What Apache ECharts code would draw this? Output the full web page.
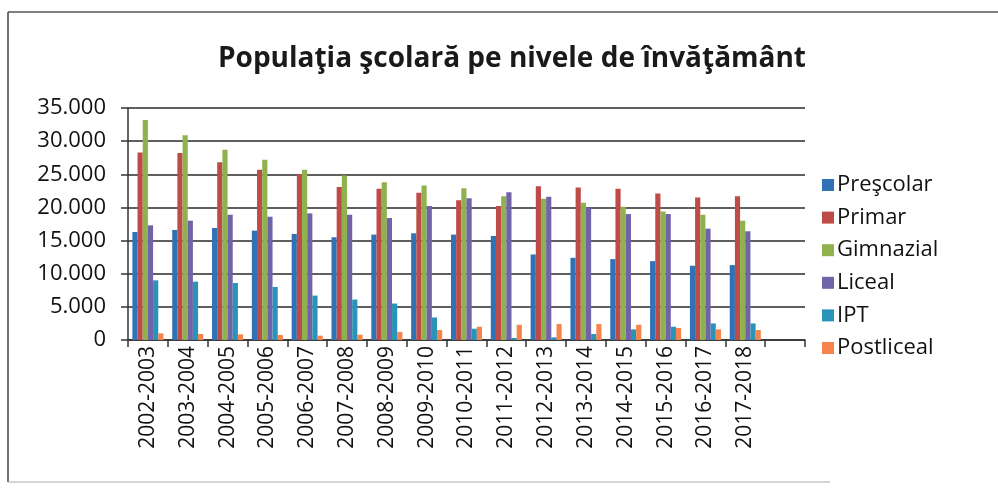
<!DOCTYPE html>
<html>
<head>
<meta charset="utf-8">
<script src="https://cdn.jsdelivr.net/npm/echarts@6/dist/echarts.min.js"></script>
<style>
  html, body { margin: 0; padding: 0; background: #fff; }
  #chart { width: 998px; height: 495px; }
</style>
</head>
<body>
<div id="chart"></div>
<script>
// ani scolari (the last slot is empty in the original)
const categories = ['2002-2003', '2003-2004', '2004-2005', '2005-2006', '2006-2007', '2007-2008',
  '2008-2009', '2009-2010', '2010-2011', '2011-2012', '2012-2013', '2013-2014',
  '2014-2015', '2015-2016', '2016-2017', '2017-2018', '']

const prescolar = [16300, 16600, 16900, 16500, 16000, 15500, 15900, 16100, 15900, 15700, 12900, 12400, 12200, 11900, 11200, 11300]
const primar = [28300, 28200, 26800, 25700, 25000, 23100, 22800, 22200, 21100, 20200, 23200, 23000, 22800, 22100, 21500, 21700]
const gimnazial = [33200, 30900, 28700, 27200, 25700, 24800, 23800, 23300, 22900, 21700, 21300, 20700, 20100, 19400, 18900, 18000]
const liceal = [17300, 18000, 18900, 18600, 19100, 18900, 18400, 20200, 21400, 22300, 21600, 20000, 19000, 19000, 16800, 16400]
const ipt = [9000, 8800, 8600, 8000, 6700, 6100, 5500, 3400, 1700, 300, 400, 900, 1600, 2000, 2500, 2500]
const postliceal = [1000, 900, 850, 750, 650, 800, 1200, 1500, 2000, 2300, 2400, 2400, 2300, 1800, 1600, 1500]

const yTicks = { min: 0, max: 35000, interval: 5000 }

const names = ['Preşcolar', 'Primar', 'Gimnazial', 'Liceal', 'IPT', 'Postliceal']
const colors = ['#2f72b5', '#be4b48', '#8fb24f', '#7163a8', '#2a93b8', '#f5834a']
const values = [prescolar, primar, gimnazial, liceal, ipt, postliceal]

const chart = echarts.init(document.getElementById('chart'))

chart.setOption({
  animation: false,
  textStyle: { fontFamily: '"Open Sans", sans-serif' },
  title: {
    text: 'Populaţia şcolară pe nivele de învăţământ',
    left: 507,
    textAlign: 'center',
    top: 40,
    textStyle: { fontSize: 28, fontWeight: 'bold', color: '#1a1a1a' }
  },
  legend: {
    orient: 'vertical',
    left: 817,
    top: 168,
    itemWidth: 12,
    itemHeight: 12,
    itemGap: 8.6,
    icon: 'rect',
    textStyle: { fontSize: 22, lineHeight: 24, color: '#111', padding: [0, 0, 0, -2] },
    data: names
  },
  grid: {
    left: 128,
    right: 193,
    top: 108,
    bottom: 155
  },
  xAxis: {
    type: 'category',
    data: categories,
    axisLine: { lineStyle: { color: '#333', width: 1.5 } },
    axisTick: { show: true, length: 7, lineStyle: { color: '#333', width: 1.5 } },
    axisLabel: { rotate: 90, fontSize: 21, color: '#111', margin: 6, interval: 0 }
  },
  yAxis: {
    type: 'value',
    min: yTicks.min,
    max: yTicks.max,
    interval: yTicks.interval,
    axisLine: { show: true, lineStyle: { color: '#333', width: 1.5 } },
    axisTick: { show: true, length: 7, lineStyle: { color: '#333', width: 1.5 } },
    splitLine: { lineStyle: { color: '#2a2a2a', width: 1.5 } },
    axisLabel: {
      fontSize: 22,
      color: '#111',
      margin: 22,
      formatter: v => v === 0 ? '0' : v.toLocaleString('de-DE')
    }
  },
  series: names.map((n, i) => ({
    name: n,
    type: 'bar',
    data: values[i],
    barGap: '0%',
    barCategoryGap: '22%',
    itemStyle: { color: colors[i] }
  })),
  graphic: [
    { type: 'line', shape: { x1: 8, y1: 12, x2: 998, y2: 12 }, style: { stroke: '#555', lineWidth: 1.5 } },
    { type: 'line', shape: { x1: 8, y1: 12, x2: 8, y2: 482 }, style: { stroke: '#444', lineWidth: 1.5 } },
    { type: 'line', shape: { x1: 8, y1: 482, x2: 830, y2: 482 }, style: { stroke: '#aaa', lineWidth: 1 } }
  ]
})
</script>
</body>
</html>
